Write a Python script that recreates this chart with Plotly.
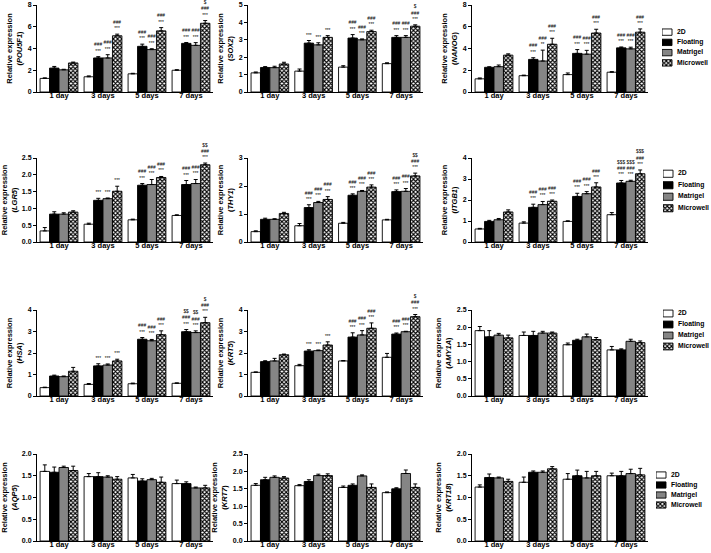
import plotly.graph_objects as go

days = ["1 day", "3 days", "5 days", "7 days"]
groups = ["2D", "Floating", "Matrigel", "Microwell"]
genes = ["POU5F1", "SOX2", "NANOG", "LGR5", "THY1", "ITGB1",
         "HSA", "KRT5", "AMY1A", "AQP5", "KRT7", "KRT18"]

# mean values: rows = 2D, Floating, Matrigel, Microwell; cols = days
pou5f1_mean = [[1.25, 1.4, 1.67, 2.0], [2.2, 3.13, 4.2, 4.47], [2.04, 3.13, 3.9, 4.29], [2.67, 5.17, 5.62, 6.32]]
sox2_mean = [[1.1, 1.2, 1.43, 1.63], [1.41, 2.81, 3.1, 3.14], [1.4, 2.71, 3.0, 3.14], [1.61, 3.14, 3.47, 3.78]]
nanog_mean = [[1.21, 1.5, 1.6, 1.82], [2.27, 3.0, 3.55, 4.06], [2.33, 2.85, 3.48, 3.97], [3.39, 4.39, 5.42, 5.5]]
lgr5_mean = [[0.33, 0.53, 0.66, 0.79], [0.83, 1.24, 1.69, 1.71], [0.83, 1.29, 1.71, 1.74], [0.89, 1.51, 1.92, 2.3]]
thy1_mean = [[0.37, 0.58, 0.67, 0.79], [0.81, 1.23, 1.67, 1.8], [0.81, 1.41, 1.81, 1.81], [1.02, 1.52, 1.96, 2.36]]
itgb1_mean = [[0.62, 0.9, 0.98, 1.3], [0.98, 1.65, 2.17, 2.81], [1.06, 1.78, 2.3, 2.89], [1.43, 1.94, 2.62, 3.25]]
hsa_mean = [[0.39, 0.54, 0.57, 0.59], [0.93, 1.4, 2.64, 2.99], [0.9, 1.44, 2.57, 2.95], [1.15, 1.63, 2.85, 3.41]]
krt5_mean = [[1.1, 1.41, 1.63, 1.8], [1.6, 2.09, 2.74, 2.88], [1.63, 2.11, 2.84, 2.99], [1.92, 2.37, 3.15, 3.69]]
amy1a_mean = [[1.9, 1.76, 1.49, 1.34], [1.72, 1.76, 1.62, 1.34], [1.77, 1.83, 1.72, 1.59], [1.69, 1.83, 1.64, 1.55]]
aqp5_mean = [[1.6, 1.48, 1.45, 1.32], [1.58, 1.48, 1.38, 1.32], [1.69, 1.47, 1.41, 1.22], [1.62, 1.42, 1.35, 1.22]]
krt7_mean = [[1.6, 1.59, 1.54, 1.39], [1.76, 1.71, 1.6, 1.5], [1.83, 1.88, 1.87, 1.94], [1.81, 1.88, 1.54, 1.54]]
krt18_mean = [[1.24, 1.35, 1.42, 1.5], [1.46, 1.58, 1.5, 1.5], [1.45, 1.58, 1.45, 1.55], [1.37, 1.66, 1.5, 1.52]]

# upper error (SEM)
pou5f1_err = [[0.05, 0.08, 0.05, 0.05], [0.15, 0.12, 0.2, 0.08], [0.05, 0.3, 0.08, 0.25], [0.08, 0.15, 0.3, 0.25]]
sox2_err = [[0.05, 0.12, 0.08, 0.05], [0.05, 0.15, 0.2, 0.1], [0.08, 0.12, 0.05, 0.1], [0.1, 0.1, 0.08, 0.08]]
nanog_err = [[0.08, 0.05, 0.15, 0.05], [0.05, 0.15, 0.35, 0.08], [0.15, 1.0, 0.35, 0.15], [0.12, 0.55, 0.35, 0.3]]
lgr5_err = [[0.1, 0.03, 0.02, 0.02], [0.07, 0.06, 0.05, 0.12], [0.04, 0.02, 0.15, 0.12], [0.04, 0.15, 0.03, 0.05]]
thy1_err = [[0.03, 0.08, 0.03, 0.02], [0.04, 0.1, 0.05, 0.06], [0.02, 0.04, 0.03, 0.1], [0.04, 0.1, 0.08, 0.1]]
itgb1_err = [[0.03, 0.06, 0.03, 0.1], [0.05, 0.15, 0.15, 0.12], [0.06, 0.15, 0.1, 0.05], [0.1, 0.06, 0.2, 0.18]]
hsa_err = [[0.02, 0.04, 0.03, 0.02], [0.04, 0.1, 0.08, 0.1], [0.03, 0.05, 0.06, 0.08], [0.18, 0.08, 0.18, 0.25]]
krt5_err = [[0.02, 0.06, 0.02, 0.18], [0.04, 0.06, 0.2, 0.05], [0.12, 0.03, 0.2, 0.02], [0.03, 0.15, 0.25, 0.1]]
amy1a_err = [[0.12, 0.1, 0.05, 0.1], [0.18, 0.12, 0.03, 0.03], [0.05, 0.05, 0.08, 0.06], [0.08, 0.03, 0.06, 0.05]]
aqp5_err = [[0.15, 0.07, 0.08, 0.08], [0.12, 0.09, 0.05, 0.04], [0.03, 0.03, 0.03, 0.02], [0.1, 0.06, 0.12, 0.06]]
krt7_err = [[0.05, 0.03, 0.04, 0.02], [0.07, 0.05, 0.04, 0.03], [0.04, 0.04, 0.03, 0.1], [0.04, 0.05, 0.1, 0.1]]
krt18_err = [[0.05, 0.12, 0.13, 0.06], [0.08, 0.03, 0.13, 0.1], [0.02, 0.03, 0.15, 0.1], [0.05, 0.05, 0.1, 0.15]]

N = ["", "", "", ""]
A = "###<br>***"
pou5f1_sig = [N, ["", A, A, A], ["", A, A, A], ["", A, A, "$<br>" + A]]
sox2_sig = [N, ["", "***", A, A], ["", "***", A, A], ["", "***", A, "$<br>" + A]]
nanog_sig = [N, ["", A, A, A], ["", "###<br>**", A, A], ["", A, A, A]]
lgr5_sig = [N, ["", "***", A, A], ["", "***", A, A], ["", "***", A, "$$<br>" + A]]
thy1_sig = [N, ["", A, A, A], ["", A, A, A], ["", A, A, "$$<br>" + A]]
itgb1_sig = [N, ["", A, A, "$$$<br>" + A], ["", A, A, "$$$<br>" + A], ["", A, A, "$$$<br>" + A]]
hsa_sig = [N, ["", "***", A, "$$<br>" + A], ["", "***", A, "$$<br>" + A], ["", "***", A, "$<br>" + A]]
krt5_sig = [N, ["", "***", A, A], ["", "***", A, A], ["", "***", A, "$<br>" + A]]
empty_sig = [N, N, N, N]

y_max = [8, 5, 8, 2.5, 3, 4, 4, 4, 2.5, 2.0, 2.5, 2.0]
y_step = [2, 1, 2, 0.5, 1, 1, 1, 1, 0.5, 0.5, 0.5, 0.5]

means = [pou5f1_mean, sox2_mean, nanog_mean, lgr5_mean, thy1_mean, itgb1_mean,
         hsa_mean, krt5_mean, amy1a_mean, aqp5_mean, krt7_mean, krt18_mean]
errs = [pou5f1_err, sox2_err, nanog_err, lgr5_err, thy1_err, itgb1_err,
        hsa_err, krt5_err, amy1a_err, aqp5_err, krt7_err, krt18_err]
sigs = [pou5f1_sig, sox2_sig, nanog_sig, lgr5_sig, thy1_sig, itgb1_sig,
        hsa_sig, krt5_sig, empty_sig, empty_sig, empty_sig, empty_sig]

group_colors = ["white", "black", "#858585", "white"]
group_patterns = ["", "", "", "x"]

W, H = 711, 553
col_x = [(37, 213), (248, 423), (472, 648)]
row_y = [(5, 92), (158, 242), (310, 396), (454, 541)]
# legend boxes (left, top, bottom) in px
legend_box = [(662, 27, 68), (663, 168, 214), (663, 308, 352), (656, 470, 510)]

FONT = "Liberation Sans"


def marker_for(k):
    m = dict(color=group_colors[k], line=dict(color="black", width=0.9))
    if group_patterns[k]:
        m["pattern"] = dict(shape=group_patterns[k], fgcolor="black", bgcolor="white",
                            size=3, solidity=0.6)
    return m


fig = go.Figure()
layout = {}
for i, g in enumerate(genes):
    r, c = divmod(i, 3)
    sfx = "" if i == 0 else str(i + 1)
    xa, ya = "x" + sfx, "y" + sfx
    for k, grp in enumerate(groups):
        fig.add_trace(go.Bar(
            x=days, y=means[i][k], name=grp, xaxis=xa, yaxis=ya,
            offsetgroup=str(k), marker=marker_for(k),
            error_y=dict(type="data", array=errs[i][k], arrayminus=[0] * 4, symmetric=False,
                         color="black", thickness=1, width=2),
            showlegend=False, hoverinfo="skip"))
    for k, grp in enumerate(groups):
        top = [m + e for m, e in zip(means[i][k], errs[i][k])]
        fig.add_trace(go.Bar(
            x=days, y=top, xaxis=xa, yaxis=ya, offsetgroup=str(k),
            marker=dict(color="rgba(0,0,0,0)", line=dict(width=0)),
            text=sigs[i][k], textposition="outside", textangle=0, constraintext="none",
            textfont=dict(size=4.8, color="black", family=FONT), cliponaxis=False,
            showlegend=False, hoverinfo="skip"))
    x0, x1 = col_x[c]
    yt, yb = row_y[r]
    dt = y_step[i]
    layout["xaxis" + sfx] = dict(
        domain=[x0 / W, x1 / W], anchor=ya, showline=True, linecolor="black", linewidth=1,
        ticks="", ticklabelstandoff=-4, automargin=False,
        tickfont=dict(size=7.5, weight="bold", family=FONT, color="black"),
        showgrid=False, zeroline=False, fixedrange=True)
    layout["yaxis" + sfx] = dict(
        domain=[1 - yb / H, 1 - yt / H], anchor=xa, range=[0, y_max[i]], dtick=dt, tick0=0,
        tickformat=".1f" if dt < 1 else "d", automargin=False,
        showline=True, linecolor="black", linewidth=1, ticks="outside", ticklen=3,
        tickcolor="black", tickfont=dict(size=7, weight="bold", family=FONT, color="black"),
        showgrid=False, zeroline=False, fixedrange=True,
        title=dict(text="Relative expression<br>(<i>" + g + "</i>)", standoff=4,
                   font=dict(size=7.5, weight="bold", family=FONT, color="black")))

# legend panels, one per row, drawn on small hidden axes
for r in range(4):
    n = 13 + r
    xa, ya = "x" + str(n), "y" + str(n)
    lx, lt, lb = legend_box[r]
    span = W - lx
    for k, grp in enumerate(groups):
        fig.add_trace(go.Bar(
            y=[k], x=[10], orientation="h", width=0.62, xaxis=xa, yaxis=ya,
            offsetgroup="legend", marker=marker_for(k),
            showlegend=False, hoverinfo="skip"))
    fig.add_trace(go.Scatter(
        y=list(range(len(groups))), x=[15] * 4, mode="text", text=groups,
        textposition="middle right",
        textfont=dict(size=6.8, weight="bold", family=FONT, color="black"),
        xaxis=xa, yaxis=ya, showlegend=False, hoverinfo="skip", cliponaxis=False))
    layout["xaxis" + str(n)] = dict(domain=[lx / W, 1], anchor=ya, automargin=False,
                                    range=[0, span], visible=False, fixedrange=True)
    layout["yaxis" + str(n)] = dict(domain=[1 - lb / H, 1 - lt / H], anchor=xa, automargin=False,
                                    range=[3.5, -0.5], visible=False, fixedrange=True)

fig.update_layout(**layout)
fig.update_layout(template="none", width=W, height=H, margin=dict(l=0, r=0, t=0, b=0, pad=0),
                  barmode="group", bargap=0.14, bargroupgap=0,
                  plot_bgcolor="white", paper_bgcolor="white", showlegend=False,
                  font=dict(family=FONT, color="black"))
fig.write_html("out.html", config={"displayModeBar": False, "staticPlot": True},
               post_script="document.body.style.margin='0';document.body.style.overflow='hidden';")
